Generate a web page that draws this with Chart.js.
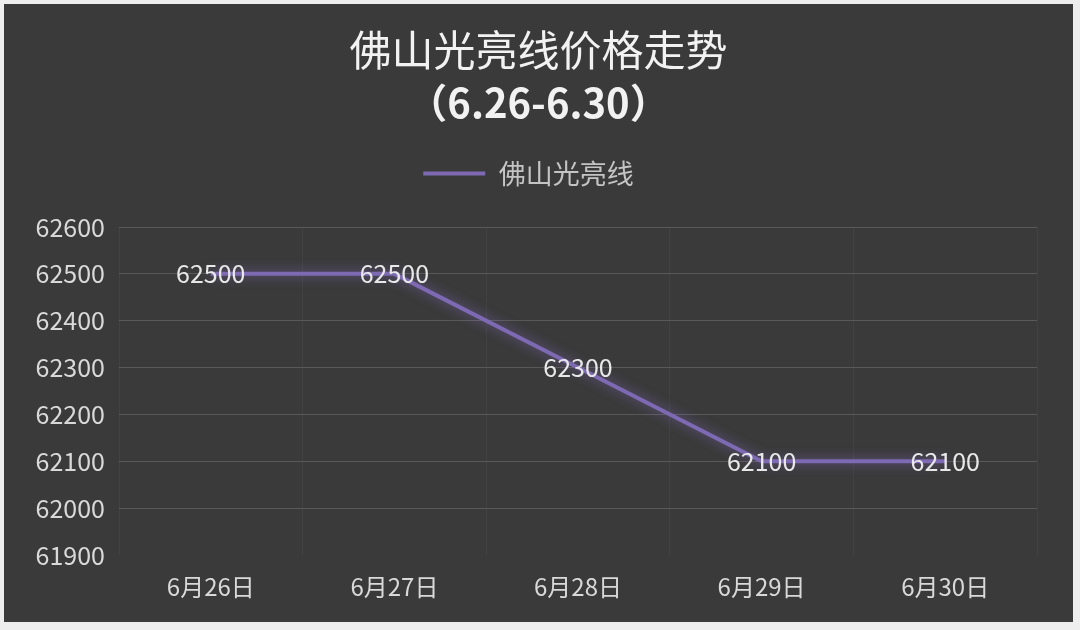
<!DOCTYPE html>
<html>
<head>
<meta charset="utf-8">
<script src="https://cdn.jsdelivr.net/npm/chart.js@4"></script>
<style>
  html, body { margin: 0; padding: 0; background: #eeeeee; }
  #panel { position: absolute; left: 4px; top: 4px; width: 1069px; height: 618px; background: #3a3a3a; }
</style>
</head>
<body>
<div id="panel"><canvas id="priceChart" width="1069" height="618"></canvas></div>
<script>
// chart data
const categories = ['6月26日', '6月27日', '6月28日', '6月29日', '6月30日'];
const prices = [62500, 62500, 62300, 62100, 62100];
const seriesName = '佛山光亮线';
const titleLines = ['佛山光亮线价格走势', '（6.26-6.30）'];
const yMin = 61900, yMax = 62600, yStep = 100;

const FONT = '"Noto Sans CJK SC", "Noto Sans", sans-serif';

// Title drawn at the top (two lines with different weights)
const titlePlugin = {
    id: 'twoLineTitle',
    afterDraw(chart) {
        const ctx = chart.ctx;
        const cx = chart.width / 2;
        ctx.save();
        ctx.fillStyle = '#f2f2f2';
        ctx.textAlign = 'center';
        ctx.textBaseline = 'middle';
        ctx.font = '42px ' + FONT;
        ctx.fillText(titleLines[0], cx, 46);
        ctx.font = 'bold 40px ' + FONT;
        ctx.fillText(titleLines[1], cx, 99);
        ctx.restore();
    }
};

// extra space between legend and plot
const legendGap = {
    id: 'legendGap',
    beforeInit(chart) {
        const fit = chart.legend.fit;
        chart.legend.fit = function() {
            fit.bind(chart.legend)();
            this.height += 30;
        };
    }
};

// glow under the line
const glowPlugin = {
    id: 'glow',
    beforeDatasetDraw(chart) {
        const ctx = chart.ctx;
        ctx.save();
        ctx.shadowColor = 'rgba(150, 120, 230, 0.6)';
        ctx.shadowBlur = 12;
    },
    afterDatasetDraw(chart) {
        chart.ctx.restore();
    }
};

// value labels centred on each point
const valueLabels = {
    id: 'valueLabels',
    afterDatasetsDraw(chart) {
        const ctx = chart.ctx;
        const meta = chart.getDatasetMeta(0);
        ctx.save();
        ctx.fillStyle = '#e8e8e8';
        ctx.font = '25px ' + FONT;
        ctx.textAlign = 'center';
        ctx.textBaseline = 'middle';
        meta.data.forEach((pt, i) => {
            ctx.fillText(String(prices[i]), pt.x, pt.y);
        });
        ctx.restore();
    }
};

const ctx = document.getElementById('priceChart').getContext('2d');
new Chart(ctx, {
    type: 'line',
    data: {
        labels: categories,
        datasets: [{
            label: seriesName,
            data: prices,
            borderColor: '#7d6ab3',
            backgroundColor: '#7d6ab3',
            borderWidth: 4,
            pointRadius: 0,
            tension: 0
        }]
    },
    options: {
        responsive: false,
        animation: false,
        layout: {
            padding: { left: 16, right: 36, top: 146, bottom: 0 }
        },
        plugins: {
            title: { display: false },
            tooltip: { enabled: false },
            legend: {
                position: 'top',
                labels: {
                    color: '#c4c4c4',
                    font: { family: FONT, size: 27 },
                    usePointStyle: true,
                    pointStyle: 'line',
                    pointStyleWidth: 62,
                    padding: 10
                }
            }
        },
        scales: {
            x: {
                offset: true,
                grid: { color: '#424242', offset: true, drawTicks: false },
                border: { display: false },
                ticks: { color: '#d9d9d9', font: { family: FONT, size: 24 }, padding: 17 },
                afterFit(scale) { scale.height = 67; }
            },
            y: {
                min: yMin,
                max: yMax,
                afterFit(scale) { scale.width = 99; },
                ticks: {
                    stepSize: yStep,
                    color: '#d9d9d9',
                    font: { family: FONT, size: 25 },
                    padding: 14,
                    callback: v => String(v)
                },
                grid: {
                    drawTicks: false,
                    color: c => c.tick && c.tick.value === yMin ? 'rgba(0,0,0,0)' : '#595959'
                },
                border: { display: false }
            }
        }
    },
    plugins: [titlePlugin, legendGap, glowPlugin, valueLabels]
});
</script>
</body>
</html>
